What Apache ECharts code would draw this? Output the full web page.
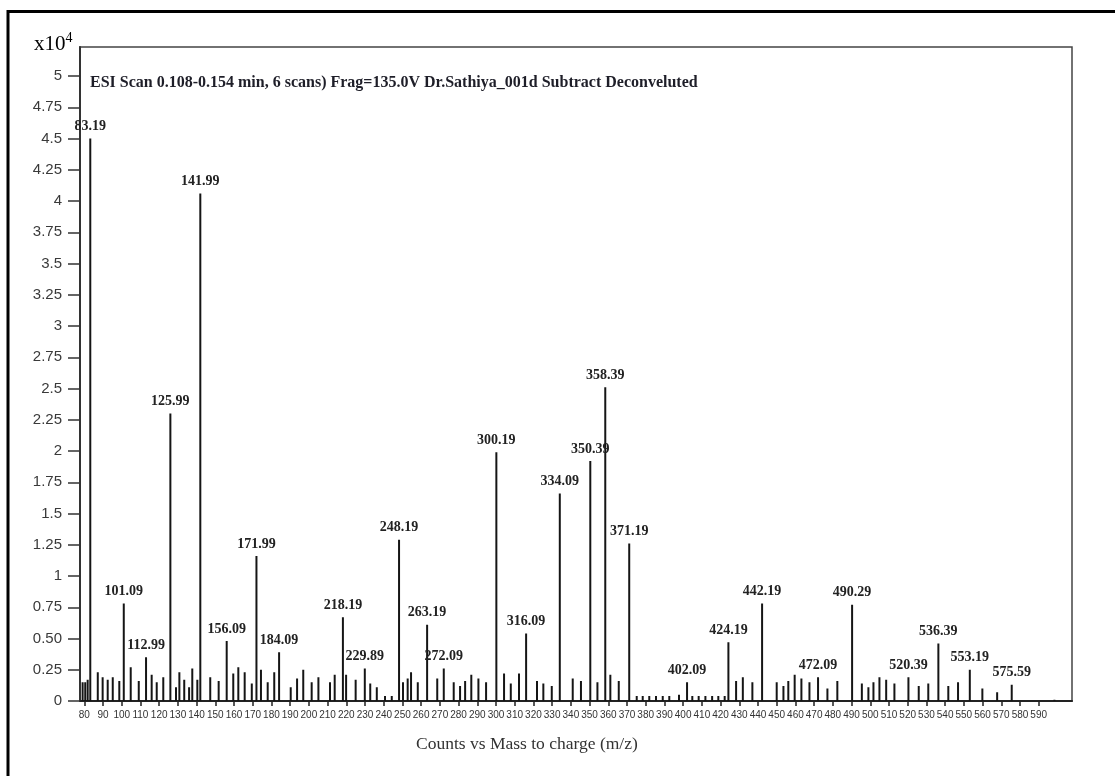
<!DOCTYPE html>
<html>
<head>
<meta charset="utf-8">
<title>ESI Scan - Counts vs Mass to charge</title>
<script src="https://cdn.jsdelivr.net/npm/echarts@6/dist/echarts.min.js"></script>
<style>
  html, body { margin: 0; padding: 0; background: #fff; }
  #chart { width: 1115px; height: 776px; }
</style>
</head>
<body>
<div id="chart"></div>
<script>
// 标注峰 (m/z, 强度 x10^4)
const labeledMz = [83.19, 101.09, 112.99, 125.99, 141.99, 156.09, 171.99, 184.09, 218.19, 229.89,
  248.19, 263.19, 272.09, 300.19, 316.09, 334.09, 350.39, 358.39, 371.19, 402.09,
  424.19, 442.19, 472.09, 490.29, 520.39, 536.39, 553.19, 575.59];
const labeledCounts = [4.50, 0.78, 0.35, 2.30, 4.06, 0.48, 1.16, 0.39, 0.67, 0.26,
  1.29, 0.61, 0.26, 1.99, 0.54, 1.66, 1.92, 2.51, 1.26, 0.15,
  0.47, 0.78, 0.19, 0.77, 0.19, 0.46, 0.25, 0.13];

// 未标注的小峰
const minorMz = [79.1, 80.5, 81.8, 87.2, 89.8, 92.5, 95.2, 98.7, 104.8, 109.1,
  116.0, 118.7, 122.2, 129.0, 130.8, 133.4, 136.0, 137.7, 140.4, 147.3,
  151.8, 159.6, 162.3, 165.7, 169.5, 174.4, 178.0, 181.5, 190.3, 193.7,
  197.0, 201.5, 205.1, 211.3, 213.8, 219.9, 225.0, 232.8, 236.3, 240.7,
  244.3, 250.3, 252.8, 254.6, 258.2, 268.6, 277.4, 280.8, 283.5, 286.8,
  290.6, 294.7, 304.3, 307.9, 312.3, 321.9, 325.3, 329.8, 341.0, 345.4,
  354.2, 361.1, 365.6, 375.2, 378.4, 381.9, 385.5, 389.1, 392.6, 397.8,
  404.9, 408.3, 411.9, 415.5, 418.8, 422.2, 428.3, 431.9, 437.0, 450.0,
  453.6, 456.2, 459.6, 463.2, 467.5, 477.1, 482.4, 495.5, 499.0, 501.7,
  504.9, 508.5, 512.9, 525.9, 531.0, 541.7, 546.9, 559.9, 567.8, 598.4];
const minorCounts = [0.15, 0.15, 0.17, 0.23, 0.19, 0.17, 0.19, 0.16, 0.27, 0.16,
  0.21, 0.15, 0.19, 0.11, 0.23, 0.17, 0.11, 0.26, 0.17, 0.19,
  0.16, 0.22, 0.27, 0.23, 0.14, 0.25, 0.15, 0.23, 0.11, 0.18,
  0.25, 0.15, 0.19, 0.15, 0.21, 0.21, 0.17, 0.14, 0.11, 0.04,
  0.04, 0.15, 0.18, 0.23, 0.15, 0.18, 0.15, 0.12, 0.16, 0.21,
  0.18, 0.15, 0.22, 0.14, 0.22, 0.16, 0.14, 0.12, 0.18, 0.16,
  0.15, 0.21, 0.16, 0.04, 0.04, 0.04, 0.04, 0.04, 0.04, 0.05,
  0.04, 0.04, 0.04, 0.04, 0.04, 0.04, 0.16, 0.19, 0.15, 0.15,
  0.12, 0.16, 0.21, 0.18, 0.15, 0.10, 0.16, 0.14, 0.11, 0.15,
  0.19, 0.17, 0.14, 0.12, 0.14, 0.12, 0.15, 0.10, 0.07, 0.01];

// 坐标刻度
const xTicks = [80, 90, 100, 110, 120, 130, 140, 150, 160, 170, 180, 190, 200, 210, 220, 230,
  240, 250, 260, 270, 280, 290, 300, 310, 320, 330, 340, 350, 360, 370, 380, 390, 400,
  410, 420, 430, 440, 450, 460, 470, 480, 490, 500, 510, 520, 530, 540, 550, 560, 570, 580, 590];
const yTicks = [0, 0.25, 0.5, 0.75, 1, 1.25, 1.5, 1.75, 2, 2.25, 2.5, 2.75, 3, 3.25, 3.5,
  3.75, 4, 4.25, 4.5, 4.75, 5];

const titleText = 'ESI Scan 0.108-0.154 min, 6 scans) Frag=135.0V Dr.Sathiya_001d Subtract Deconveluted';
const xName = 'Counts vs Mass to charge (m/z)';

const chart = echarts.init(document.getElementById('chart'));

const peakData = minorMz.map((mz, i) => ({ value: [mz, minorCounts[i]] }))
  .concat(labeledMz.map((mz, i) => ({ value: [mz, labeledCounts[i]], label: { show: true } })));

const option = {
  animation: false,
  backgroundColor: '#fff',
  title: [{
    text: titleText,
    left: 85,
    top: 70,
    textStyle: {
      fontFamily: '"Liberation Serif", serif',
      fontWeight: 'bold',
      fontSize: 16,
      color: '#1e1e28'
    }
  }, {
    text: xName,
    left: 411,
    top: 730,
    textStyle: {
      fontFamily: '"Liberation Serif", serif',
      fontWeight: 'normal',
      fontSize: 17.5,
      color: '#333'
    }
  }],
  grid: {
    left: 80,
    right: 43,
    top: 47,
    bottom: 75,
    show: true,
    borderColor: '#444',
    borderWidth: 1.5
  },
  xAxis: {
    type: 'value',
    min: 77.7,
    max: 607.8,
    axisLine: { lineStyle: { color: '#222', width: 2 } },
    axisTick: { customValues: xTicks, length: 5, lineStyle: { color: '#222', width: 1.5 } },
    axisLabel: {
      customValues: xTicks,
      margin: 9,
      fontSize: 10,
      fontFamily: '"Liberation Sans", sans-serif',
      color: '#333'
    },
    splitLine: { show: false }
  },
  yAxis: {
    type: 'value',
    min: 0,
    max: 5.232,
    axisLine: { show: true, lineStyle: { color: '#333', width: 2 } },
    axisTick: { customValues: yTicks, length: 12, lineStyle: { color: '#333', width: 1.5 } },
    axisLabel: {
      customValues: yTicks,
      margin: 18,
      fontSize: 15,
      fontFamily: '"Liberation Sans", Arial, sans-serif',
      color: '#3a3a3a',
      formatter: v => (v === 0.5 ? '0.50' : String(v))
    },
    splitLine: { show: false }
  },
  graphic: [
    {
      type: 'text',
      left: 34,
      top: 31,
      style: {
        text: '{b|x10}{s|4}',
        rich: {
          b: { fontFamily: '"Liberation Serif", serif', fontSize: 21, color: '#333', verticalAlign: 'bottom' },
          s: { fontFamily: '"Liberation Serif", serif', fontSize: 14, color: '#333', verticalAlign: 'top', padding: [0, 0, 10, 0] }
        }
      }
    },
    // 外框
    { type: 'line', shape: { x1: 8, y1: 11.5, x2: 1115, y2: 11.5 }, style: { stroke: '#000', lineWidth: 3 } },
    { type: 'line', shape: { x1: 8, y1: 10, x2: 8, y2: 776 }, style: { stroke: '#000', lineWidth: 3 } }
  ],
  series: [{
    type: 'bar',
    barWidth: 2,
    itemStyle: { color: '#151515' },
    label: {
      show: false,
      position: 'top',
      distance: 5,
      fontFamily: '"Liberation Serif", serif',
      fontWeight: 'bold',
      fontSize: 14,
      color: '#222',
      formatter: p => p.value[0].toFixed(2)
    },
    data: peakData
  }]
};

chart.setOption(option);
</script>
</body>
</html>
